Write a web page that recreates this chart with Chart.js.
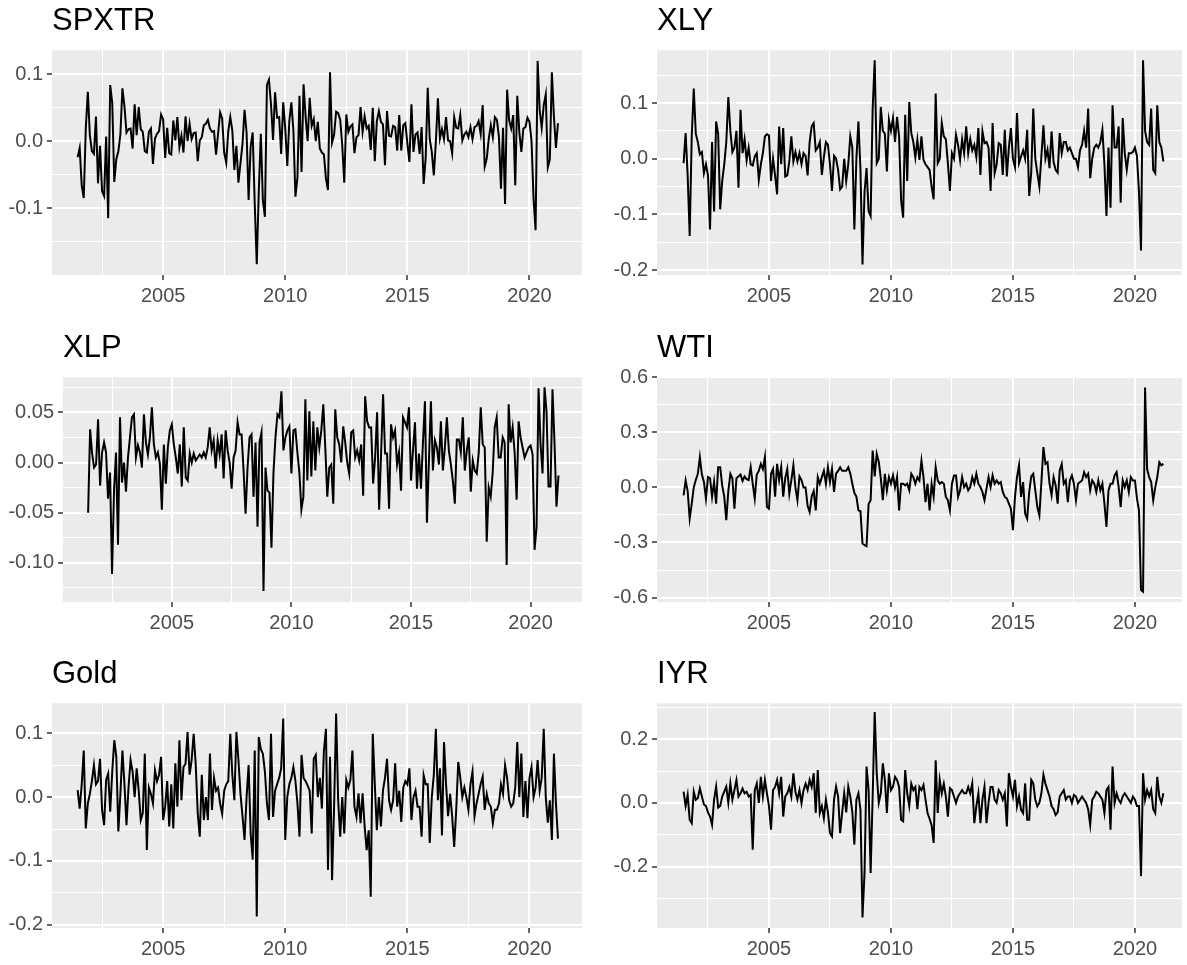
<!DOCTYPE html>
<html>
<head>
<meta charset="utf-8">
<title>Monthly log returns</title>
<script src="https://cdn.jsdelivr.net/npm/chart.js@4.4.1/dist/chart.umd.min.js"></script>
<style>
  html, body { margin: 0; padding: 0; background: #fff; }
  body { width: 1187px; height: 965px; position: relative; overflow: hidden; }
  canvas { position: absolute; }
</style>
</head>
<body>
<script>
// monthly log returns, Jun 2001 .. Feb 2021 (one row per calendar year)
const spxtr = [
  -0.024, -0.010, -0.066, -0.085, 0.019, 0.074, 0.009,
  -0.015, -0.019, 0.037, -0.063, -0.007, -0.075, -0.082, 0.007, -0.115, 0.084, 0.057, -0.061,
  -0.027, -0.015, 0.010, 0.079, 0.052, 0.013, 0.018, 0.019, -0.011, 0.055, 0.009, 0.051,
  0.018, 0.014, -0.015, -0.017, 0.014, 0.019, -0.034, 0.004, 0.011, 0.015, 0.040, 0.033,
  -0.025, 0.020, -0.018, -0.020, 0.031, 0.001, 0.036, -0.009, 0.008, -0.017, 0.037, 0.000,
  0.026, 0.003, 0.012, 0.013, -0.030, 0.001, 0.006, 0.024, 0.026, 0.032, 0.019, 0.014,
  0.015, -0.020, 0.011, 0.043, 0.034, -0.017, -0.032, 0.015, 0.036, 0.016, -0.043, -0.007,
  -0.062, -0.033, -0.004, 0.047, 0.013, -0.088, -0.008, 0.013, -0.093, -0.184, -0.075, 0.011,
  -0.088, -0.113, 0.084, 0.092, 0.055, 0.002, 0.073, 0.035, 0.036, -0.019, 0.058, 0.019,
  -0.037, 0.030, 0.058, 0.016, -0.083, -0.054, 0.068, -0.046, 0.085, 0.037, 0.000, 0.065,
  0.023, 0.033, 0.000, 0.029, -0.011, -0.017, -0.020, -0.056, -0.073, 0.103, -0.002, 0.010,
  0.044, 0.042, 0.032, -0.006, -0.062, 0.040, 0.014, 0.022, 0.025, -0.018, 0.006, 0.009,
  0.051, 0.014, 0.037, 0.019, 0.023, -0.013, 0.050, -0.030, 0.030, 0.045, 0.029, 0.025,
  -0.036, 0.045, 0.008, 0.007, 0.023, 0.021, -0.014, 0.039, -0.014, 0.024, 0.027, -0.003,
  -0.031, 0.055, -0.016, 0.010, 0.013, -0.019, 0.021, -0.064, -0.025, 0.080, 0.003, -0.016,
  -0.051, -0.001, 0.064, 0.004, 0.018, 0.003, 0.036, 0.001, 0.000, -0.018, 0.036, 0.020,
  0.019, 0.039, 0.001, 0.010, 0.014, 0.006, 0.021, 0.003, 0.021, 0.023, 0.030, 0.011,
  0.054, -0.038, -0.026, 0.004, 0.024, 0.006, 0.036, 0.032, 0.006, -0.071, 0.020, -0.094,
  0.077, 0.031, 0.019, 0.039, -0.066, 0.068, 0.014, -0.016, 0.019, 0.021, 0.035, 0.029,
  0.000, -0.086, -0.133, 0.120, 0.047, 0.020, 0.054, 0.070, -0.039, -0.027, 0.103, 0.037,
  -0.010, 0.027
];

const xly = [
  -0.008, 0.046, -0.030, -0.139, 0.040, 0.126, 0.045,
  0.030, 0.008, 0.012, -0.026, -0.010, -0.030, -0.127, 0.030, -0.095, 0.067, 0.045, -0.091,
  -0.040, -0.010, 0.030, 0.111, 0.050, 0.012, 0.020, 0.050, -0.052, 0.088, 0.010, 0.035,
  -0.003, 0.020, -0.010, -0.012, 0.004, 0.010, -0.038, -0.010, 0.010, 0.040, 0.044, 0.042,
  -0.040, 0.000, -0.030, -0.064, 0.058, -0.010, 0.055, -0.032, -0.030, -0.005, 0.040, -0.005,
  0.012, -0.005, 0.010, -0.010, 0.010, 0.005, -0.030, 0.030, 0.058, 0.064, 0.015, 0.020,
  0.030, -0.029, 0.003, 0.030, 0.025, -0.010, -0.058, 0.005, 0.000, -0.020, -0.055, -0.050,
  0.000, -0.040, -0.010, 0.040, 0.020, -0.127, 0.000, 0.067, -0.020, -0.190, -0.060, -0.017,
  -0.094, -0.103, 0.090, 0.177, -0.008, 0.000, 0.093, 0.050, 0.045, -0.023, 0.070, 0.050,
  0.073, 0.030, 0.075, 0.040, -0.075, -0.106, 0.079, -0.040, 0.102, 0.046, 0.030, 0.002,
  0.034, -0.002, 0.040, -0.002, -0.010, -0.015, -0.020, -0.050, -0.073, 0.117, -0.008, 0.000,
  0.064, 0.040, 0.035, -0.008, -0.058, 0.010, 0.000, 0.043, 0.025, -0.002, 0.035, 0.010,
  0.058, 0.010, 0.035, 0.015, 0.025, 0.003, 0.055, -0.029, 0.049, 0.028, 0.030, 0.020,
  -0.058, 0.064, -0.026, -0.010, 0.028, 0.025, -0.029, 0.052, -0.032, 0.020, 0.055, 0.000,
  -0.015, 0.082, -0.008, 0.004, 0.015, 0.000, 0.052, -0.067, -0.025, 0.090, 0.000, -0.026,
  -0.050, 0.005, 0.060, 0.000, 0.016, -0.017, 0.049, -0.006, -0.020, -0.025, 0.046, 0.010,
  0.030, 0.030, 0.015, 0.020, 0.010, 0.000, 0.000, -0.015, 0.015, 0.025, 0.050, 0.020,
  0.090, -0.035, 0.000, 0.020, 0.025, 0.020, 0.030, 0.052, -0.010, -0.103, 0.020, -0.088,
  0.096, 0.020, 0.020, 0.058, -0.079, 0.073, 0.010, -0.020, 0.010, 0.010, 0.012, 0.020,
  0.005, -0.060, -0.165, 0.177, 0.050, 0.030, 0.025, 0.090, -0.020, -0.026, 0.096, 0.030,
  0.020, -0.005
];

const xlp = [
  -0.050, 0.033, 0.009, -0.005, -0.002, 0.043, -0.023,
  0.010, 0.020, 0.010, -0.036, -0.010, -0.111, -0.028, 0.010, -0.082, 0.045, -0.020, 0.000,
  -0.029, 0.005, 0.025, 0.045, 0.048, 0.005, 0.017, 0.010, -0.005, 0.048, 0.020, 0.008,
  0.025, 0.055, 0.018, 0.005, 0.010, -0.001, -0.047, 0.018, -0.021, 0.015, 0.032, 0.038,
  0.018, 0.005, -0.011, 0.018, -0.024, 0.035, -0.015, -0.018, 0.009, 0.000, 0.009, 0.002,
  0.005, 0.008, 0.005, 0.010, 0.005, 0.015, 0.035, 0.012, 0.022, -0.006, 0.022, 0.008,
  0.028, -0.016, 0.032, 0.012, 0.000, -0.026, 0.005, 0.012, 0.040, 0.028, 0.028, -0.008,
  -0.051, -0.005, 0.025, 0.028, -0.034, 0.020, -0.064, 0.020, 0.030, -0.128, -0.005, -0.028,
  -0.030, -0.085, -0.010, 0.025, 0.048, 0.045, 0.071, 0.012, 0.025, 0.032, 0.036, -0.011,
  0.032, 0.033, 0.010, -0.010, -0.047, -0.034, 0.063, -0.018, 0.051, -0.014, 0.041, -0.008,
  0.035, 0.015, 0.032, 0.058, 0.015, -0.034, -0.005, -0.002, -0.041, 0.053, 0.025, 0.018,
  0.000, 0.036, 0.020, 0.000, -0.011, 0.030, 0.032, 0.005, 0.012, 0.002, 0.018, -0.033,
  0.066, 0.041, 0.035, 0.035, -0.021, 0.005, 0.050, -0.047, 0.009, 0.068, 0.009, 0.009,
  -0.046, 0.038, 0.025, 0.032, -0.002, 0.010, -0.028, 0.045, 0.040, 0.035, 0.055, -0.018,
  0.012, 0.040, -0.026, 0.009, -0.026, 0.020, 0.061, -0.060, 0.002, 0.061, -0.008, 0.022,
  0.015, -0.002, 0.041, -0.008, 0.015, 0.045, 0.012, -0.002, -0.018, -0.041, 0.023, 0.023,
  0.010, 0.045, -0.008, 0.012, 0.025, -0.029, 0.002, -0.008, -0.011, 0.010, 0.055, 0.018,
  0.015, -0.079, -0.025, -0.034, -0.010, 0.035, 0.045, 0.005, 0.005, 0.025, 0.020, -0.102,
  0.058, 0.020, 0.035, 0.010, -0.037, 0.041, 0.025, 0.015, 0.005, 0.010, 0.015, 0.017,
  0.008, -0.087, -0.064, 0.074, 0.018, -0.011, 0.075, 0.051, -0.024, -0.024, 0.073, 0.020,
  -0.044, -0.013
];

const wti = [
  -0.043, 0.038, -0.020, -0.170, -0.090, 0.000, 0.040,
  0.074, 0.165, 0.070, 0.030, -0.061, 0.056, 0.050, -0.052, 0.030, -0.089, 0.110, 0.110,
  0.010, -0.050, -0.179, -0.020, 0.074, 0.050, -0.116, 0.050, 0.060, 0.070, 0.035, 0.060,
  0.045, 0.040, 0.110, 0.020, -0.061, 0.070, 0.090, 0.128, 0.100, 0.165, -0.107, -0.116,
  0.074, 0.100, -0.050, 0.128, 0.040, 0.110, -0.050, 0.050, 0.100, -0.035, 0.040, 0.120,
  0.000, -0.070, 0.060, 0.040, 0.000, 0.000, -0.100, -0.134, -0.050, -0.020, -0.125, 0.056,
  0.020, 0.056, 0.090, 0.020, 0.110, 0.030, 0.100, -0.025, 0.075, 0.090, 0.110, 0.090,
  0.090, 0.090, 0.110, 0.075, 0.020, -0.030, -0.050, -0.125, -0.130, -0.306, -0.315, -0.320,
  -0.090, -0.070, 0.200, 0.060, 0.183, 0.140, 0.050, -0.070, 0.074, -0.016, 0.056, 0.020,
  0.065, 0.000, 0.056, -0.125, 0.020, 0.020, 0.011, 0.020, -0.016, 0.074, 0.056, 0.020,
  0.056, 0.038, 0.146, 0.056, -0.080, 0.020, -0.125, 0.020, -0.050, 0.110, 0.038, 0.020,
  0.029, 0.020, -0.052, -0.070, -0.125, 0.020, 0.065, 0.065, -0.052, -0.016, 0.056, 0.002,
  0.020, -0.016, 0.002, 0.056, 0.020, 0.074, 0.020, 0.002, -0.025, -0.070, -0.007, 0.056,
  0.002, 0.065, 0.020, 0.038, 0.020, 0.029, -0.025, -0.052, -0.060, -0.089, -0.116, -0.233,
  -0.052, 0.056, 0.120, -0.052, 0.029, -0.143, -0.170, -0.025, 0.060, 0.074, -0.016, -0.107,
  -0.152, 0.029, 0.219, 0.128, 0.137, 0.020, -0.043, 0.056, 0.011, -0.089, 0.092, 0.128,
  0.020, 0.038, -0.080, 0.038, 0.065, 0.020, -0.070, 0.020, 0.029, 0.038, 0.083, 0.056,
  0.074, -0.016, 0.038, 0.020, -0.025, 0.038, -0.016, 0.020, -0.089, -0.215, -0.016, 0.020,
  0.020, 0.065, 0.083, 0.002, -0.107, 0.038, 0.002, 0.038, -0.025, 0.056, 0.038, 0.038,
  -0.060, -0.125, -0.559, -0.568, 0.544, 0.100, 0.056, 0.029, -0.070, 0.000, 0.056, 0.137,
  0.120, 0.128
];

const gold = [
  0.011, -0.018, 0.020, 0.073, -0.049, -0.010, 0.005,
  0.025, 0.050, 0.020, 0.025, 0.060, -0.020, -0.044, 0.027, 0.037, -0.023, 0.040, 0.089,
  0.063, -0.054, 0.005, 0.073, 0.020, -0.044, 0.015, 0.058, 0.040, 0.000, 0.045, 0.010,
  -0.036, -0.025, 0.068, -0.083, 0.015, 0.005, -0.010, 0.042, 0.025, 0.035, 0.063, -0.036,
  -0.015, 0.025, -0.046, 0.020, -0.049, 0.053, -0.015, 0.089, -0.005, 0.047, 0.052, 0.102,
  0.035, 0.058, 0.099, 0.052, -0.025, -0.062, 0.035, -0.036, 0.000, -0.036, 0.068, -0.020,
  0.030, 0.010, 0.015, -0.010, -0.026, 0.010, 0.020, 0.025, 0.099, 0.035, -0.005, 0.102,
  0.058, 0.005, -0.030, -0.067, 0.000, 0.050, -0.057, -0.098, 0.073, -0.187, 0.094, 0.075,
  0.068, 0.040, -0.010, -0.036, 0.099, -0.031, 0.010, 0.020, 0.030, 0.045, 0.123, -0.067,
  0.000, 0.020, 0.030, 0.047, 0.025, -0.010, -0.062, 0.066, 0.030, 0.025, 0.018, 0.010,
  -0.057, 0.060, 0.066, 0.000, 0.030, -0.018, 0.073, 0.107, -0.114, 0.063, -0.130, -0.015,
  0.131, -0.005, -0.062, 0.000, -0.057, 0.027, 0.015, 0.027, 0.073, -0.015, -0.031, 0.006,
  -0.041, 0.006, -0.046, -0.083, -0.052, -0.156, 0.099, 0.020, -0.052, 0.000, -0.046, 0.010,
  0.030, 0.060, -0.005, -0.020, -0.005, 0.053, -0.015, 0.010, -0.039, 0.015, 0.025, 0.020,
  0.045, -0.036, 0.000, 0.010, -0.015, -0.015, -0.062, 0.034, 0.020, 0.020, -0.072, 0.000,
  0.035, 0.107, -0.005, 0.045, -0.060, 0.086, 0.020, -0.030, 0.005, -0.030, -0.078, -0.020,
  0.055, 0.030, 0.000, 0.015, 0.000, -0.020, 0.020, 0.040, -0.030, -0.010, 0.005, 0.020,
  0.032, -0.020, 0.005, -0.010, -0.015, -0.041, -0.020, -0.020, -0.010, 0.020, 0.005, 0.050,
  0.030, -0.005, -0.015, -0.010, 0.015, 0.086, 0.000, 0.068, -0.031, 0.025, -0.033, 0.030,
  0.047, 0.000, 0.015, 0.058, 0.010, 0.030, 0.107, 0.000, -0.040, -0.005, -0.067, 0.068,
  -0.010, -0.065
];

const iyr = [
  0.035, -0.010, 0.025, -0.053, -0.064, 0.035, 0.010,
  0.015, 0.046, 0.020, -0.005, -0.010, -0.030, -0.043, -0.069, 0.010, 0.051, -0.015, -0.010,
  0.020, 0.035, 0.051, 0.000, 0.061, 0.010, 0.040, 0.072, 0.020, 0.030, 0.045, 0.030,
  0.035, 0.020, 0.025, -0.147, 0.040, 0.061, 0.000, 0.082, 0.020, 0.072, 0.030, -0.010,
  -0.084, 0.040, 0.050, 0.072, 0.030, 0.082, -0.043, 0.020, 0.030, 0.050, 0.020, 0.093,
  0.035, 0.010, 0.040, -0.001, 0.040, 0.060, 0.040, 0.072, 0.050, 0.093, -0.032, 0.103,
  -0.032, -0.010, -0.048, 0.010, -0.030, -0.095, -0.105, 0.010, 0.051, 0.020, -0.095, -0.030,
  0.030, -0.030, 0.051, 0.020, -0.030, -0.131, 0.010, 0.030, -0.022, -0.360, -0.220, 0.114,
  0.040, -0.220, 0.020, 0.285, 0.093, 0.000, 0.030, 0.124, 0.072, -0.032, 0.093, 0.040,
  0.051, 0.082, 0.072, 0.050, -0.053, -0.058, 0.103, 0.030, -0.010, 0.060, 0.040, 0.050,
  -0.020, 0.050, 0.040, 0.056, 0.010, -0.032, -0.050, -0.070, -0.126, 0.134, -0.032, 0.072,
  0.030, 0.060, 0.020, -0.043, 0.046, 0.040, 0.020, 0.000, 0.020, 0.030, 0.040, 0.030,
  0.030, 0.050, 0.030, 0.061, -0.064, -0.010, 0.030, -0.064, 0.010, 0.050, -0.064, 0.000,
  0.050, 0.050, 0.010, 0.000, 0.040, 0.030, 0.010, 0.030, -0.074, 0.093, 0.050, 0.020,
  0.072, -0.011, 0.020, -0.022, -0.032, 0.061, -0.053, -0.053, 0.072, 0.061, 0.010, -0.011,
  0.000, 0.030, 0.088, 0.060, 0.040, 0.020, -0.010, -0.020, -0.038, -0.030, 0.020, 0.030,
  0.040, 0.010, 0.020, 0.020, 0.000, 0.025, 0.020, 0.000, 0.010, 0.020, 0.010, 0.000,
  -0.020, -0.069, 0.010, 0.020, 0.035, 0.030, 0.020, 0.010, -0.032, 0.040, 0.050, -0.084,
  0.114, 0.000, 0.030, 0.010, 0.000, 0.020, 0.030, 0.020, 0.010, 0.000, 0.020, 0.010,
  -0.010, -0.010, -0.230, 0.093, 0.010, 0.040, 0.020, 0.040, -0.020, -0.032, 0.082, 0.020,
  0.000, 0.030
];

// axis labels
const xTicks = [2005, 2010, 2015, 2020];
const spxtrTicks = ['0.1', '0.0', '-0.1'];
const xlyTicks = ['0.1', '0.0', '-0.1', '-0.2'];
const xlpTicks = ['0.05', '0.00', '-0.05', '-0.10'];
const wtiTicks = ['0.6', '0.3', '0.0', '-0.3', '-0.6'];
const goldTicks = ['0.1', '0.0', '-0.1', '-0.2'];
const iyrTicks = ['0.2', '0.0', '-0.2'];

// month-end dates as decimal years, first month Jun 2001
const firstMonth = 2001.5;

const panels = [
  { title: 'SPXTR', values: spxtr, ticks: spxtrTicks, left: 0,   top: 0,   width: 590, yw: 52, padR: 8, y: [-0.200, 0.136], x: [2000.45, 2022.15] },
  { title: 'XLY',   values: xly,   ticks: xlyTicks,   left: 590, top: 0,   width: 597, yw: 67, padR: 5, y: [-0.209, 0.195], x: [2000.41, 2021.93] },
  { title: 'XLP',   values: xlp,   ticks: xlpTicks,   left: 0,   top: 327, width: 590, yw: 63, padR: 8, y: [-0.139, 0.085], x: [2000.45, 2022.15] },
  { title: 'WTI',   values: wti,   ticks: wtiTicks,   left: 590, top: 327, width: 597, yw: 67, padR: 5, y: [-0.624, 0.600], x: [2000.41, 2021.93] },
  { title: 'Gold',  values: gold,  ticks: goldTicks,  left: 0,   top: 653, width: 590, yw: 52, padR: 8, y: [-0.205, 0.147], x: [2000.45, 2022.15] },
  { title: 'IYR',   values: iyr,   ticks: iyrTicks,   left: 590, top: 653, width: 597, yw: 67, padR: 5, y: [-0.393, 0.313], x: [2000.41, 2021.93] }
];

Chart.defaults.font.family = '"Liberation Sans", Arial, Helvetica, sans-serif';

// ggplot style: majors plus half-way minor breaks inside the range
function breaks(majors, lo, hi) {
  const sorted = majors.slice().sort((a, b) => a - b);
  const half = (sorted[1] - sorted[0]) / 2;
  const out = [];
  for (let k = -4; k <= (sorted.length - 1) * 2 + 4; k++) {
    const v = Math.round((sorted[0] + k * half) * 1e6) / 1e6;
    if (v >= lo - 1e-9 && v <= hi + 1e-9) out.push({ value: v, isMajor: k % 2 === 0 });
  }
  return out;
}

const panelBg = {
  id: 'panelBg',
  beforeDraw(chart) {
    const a = chart.chartArea;
    const ctx = chart.ctx;
    ctx.save();
    ctx.fillStyle = '#EBEBEB';
    ctx.fillRect(a.left, a.top, a.right - a.left, a.bottom - a.top);
    ctx.restore();
  }
};

const gridStyle = {
  color: '#FFFFFF',
  lineWidth: c => (c.tick && c.tick.isMajor) ? 2 : 1,
  tickColor: c => (c.tick && c.tick.isMajor) ? '#333333' : 'rgba(0,0,0,0)',
  tickLength: 5,
  tickWidth: 1.5,
  drawTicks: true
};

panels.forEach(p => {
  const canvas = document.createElement('canvas');
  canvas.width = p.width;
  canvas.height = 312;
  canvas.style.left = p.left + 'px';
  canvas.style.top = p.top + 'px';
  document.body.appendChild(canvas);

  const yLabels = {};
  p.ticks.forEach(s => { yLabels[parseFloat(s)] = s; });
  const yBreaks = breaks(p.ticks.map(parseFloat), p.y[0], p.y[1]);
  const xBreaks = breaks(xTicks, p.x[0], p.x[1]);

  new Chart(canvas, {
    type: 'line',
    data: {
      datasets: [{
        data: p.values.map((v, i) => ({ x: firstMonth + i / 12, y: v })),
        borderColor: '#000000',
        borderWidth: 2,
        pointRadius: 0,
        tension: 0,
        fill: false
      }]
    },
    options: {
      responsive: false,
      animation: false,
      layout: { padding: { left: 0, right: p.padR, top: 0, bottom: 0 } },
      plugins: {
        legend: { display: false },
        tooltip: { enabled: false },
        title: {
          display: true,
          text: p.title,
          align: 'start',
          fullSize: false,
          color: '#000000',
          font: { size: 31, weight: 'normal', lineHeight: 1.2 },
          padding: { top: 3, bottom: 10 }
        }
      },
      scales: {
        x: {
          type: 'linear',
          min: p.x[0],
          max: p.x[1],
          border: { display: false },
          grid: gridStyle,
          afterBuildTicks: s => { s.ticks = xBreaks.map(t => ({ ...t })); },
          afterFit: s => { s.height = 37; },
          ticks: {
            autoSkip: false,
            maxRotation: 0,
            padding: 4,
            color: '#4D4D4D',
            font: { size: 20 },
            callback: (v, i, ticks) => ticks[i].isMajor ? String(v) : ''
          }
        },
        y: {
          type: 'linear',
          min: p.y[0],
          max: p.y[1],
          border: { display: false },
          grid: gridStyle,
          afterBuildTicks: s => { s.ticks = yBreaks.map(t => ({ ...t })); },
          afterFit: s => { s.width = p.yw; },
          ticks: {
            autoSkip: false,
            padding: 4,
            color: '#4D4D4D',
            font: { size: 20 },
            callback: (v, i, ticks) => ticks[i].isMajor ? yLabels[v] : ''
          }
        }
      }
    },
    plugins: [panelBg]
  });
});
</script>
</body>
</html>
